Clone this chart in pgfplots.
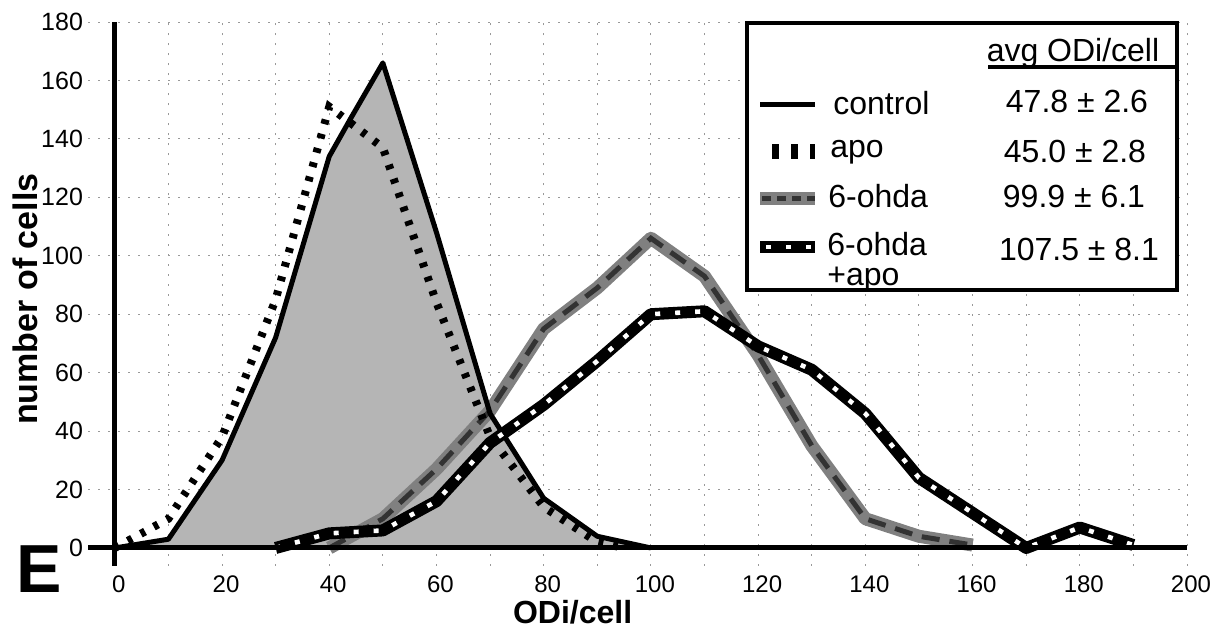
\documentclass[border=0pt]{standalone}
\usepackage{fontspec}
\setmainfont{Liberation Sans}
\usepackage{pgfplots}
\pgfplotsset{compat=1.18}
\usepackage{pgfplotstable}

% number of cells per ODi/cell bin
\pgfplotstableread{
x y
0 0
10 3
20 30
30 72
40 134
44 147
50 166
60 108
70 46
80 17
90 4
100 0
}\control

\pgfplotstableread{
x y
0 0
10 10
20 38
30 85
40 151
50 137
60 84
70 38
80 14
90 2
95 0
}\apo

\pgfplotstableread{
x y
40 0
50 10
60 27
70 47
80 75
90 89
100 106
110 93
120 66
130 35
140 10
150 4
160 1
}\ohda

\pgfplotstableread{
x y
30 0
40 5
50 6
60 16
70 36
80 49
90 64
100 80
110 81
120 69
130 61
140 46
150 24
160 12
170 0
180 7
190 1
}\ohdaapo

\tikzset{
  ctrlline/.style={black, line width=2.5pt, line join=round},
  apoline/.style={black, line width=4pt, dash pattern=on 2.4pt off 5pt},
  ohdabase/.style={black!50, line width=6.5pt, line join=round},
  ohdadash/.style={black!80, line width=2.5pt, dash pattern=on 9pt off 5pt},
  oabase/.style={black, line width=6pt, line join=round},
  oadots/.style={white, line width=2.3pt, dash pattern=on 2.5pt off 7.5pt},
}

\begin{document}
\begin{tikzpicture}
\path[use as bounding box] (0,0) rectangle (608pt,314pt);
\begin{axis}[
  at={(44pt,31.25pt)}, anchor=south west,
  scale only axis, width=549.5pt, height=271.75pt,
  xmin=-5, xmax=200, ymin=-6, ymax=180,
  xtick={0,20,...,200}, ytick={0,20,...,180},
  minor xtick={10,30,...,190},
  grid=both,
  major grid style={black!40, line width=0.5pt, dash pattern=on 1pt off 4pt},
  minor grid style={black!40, line width=0.5pt, dash pattern=on 1pt off 4pt},
  axis line style={draw=none},
  major tick length=0pt, minor tick length=0pt,
  tick label style={font=\fontsize{12.5}{14}\selectfont},
  xticklabel style={font=\fontsize{12}{13}\selectfont, inner sep=0.5pt, yshift=-4.5pt, xshift=2pt},
  /pgf/number format/assume math mode=true,
  yticklabel style={xshift=1pt},
  xlabel={\textbf{ODi/cell}},
  ylabel={\textbf{number of cells}},
  xlabel style={at={(axis description cs:0.441,-0.0865)}, anchor=center, inner sep=0pt, font=\fontsize{16}{16}\selectfont},
  ylabel style={at={(axis description cs:-0.057,0.49)}, anchor=center, rotate=0, font=\fontsize{17}{20}\selectfont},
  clip=false,
]
\addplot[fill=black!29, draw=none] table {\control} \closedcycle;
\addplot[ohdabase] table {\ohda};
\addplot[ohdadash] table {\ohda};
\addplot[ctrlline] table {\control};
\addplot[apoline] table {\apo};
\addplot[oabase] table {\ohdaapo};
\addplot[oadots] table {\ohdaapo};
% axis lines crossing at the origin
\draw[line width=2.5pt] (axis cs:-5,0) -- (axis cs:200,0);
\draw[line width=2.5pt] (axis cs:0,-6) -- (axis cs:0,180);
\end{axis}

% panel letter
\node[font=\fontsize{34}{38}\selectfont\bfseries] at (19.75pt,29.5pt) {E};

% legend box
\draw[line width=2pt, fill=white] (373.5pt,169pt) rectangle (588.5pt,302.5pt);
\begin{scope}[font=\fontsize{16}{18}\selectfont]
\node[anchor=base] at (536.5pt,283pt) {avg ODi/cell};
\draw[line width=2pt] (494pt,280.5pt) -- (587.5pt,280.5pt);
\draw[ctrlline] (380pt,261.5pt) -- (407.5pt,261.5pt);
\draw[black, line width=7.5pt, dash pattern=on 3.5pt off 6pt] (386pt,238pt) -- (407.5pt,238pt);
\draw[ohdabase] (380pt,215pt) -- (407.5pt,215pt);
\draw[ohdadash, dash pattern=on 4.5pt off 3pt] (381pt,215pt) -- (407.5pt,215pt);
\draw[oabase] (380pt,190.5pt) -- (407.5pt,190.5pt);
\draw[oadots] (383pt,190.5pt) -- (407.5pt,190.5pt);
\node[anchor=base west, inner sep=0pt] at (416.5pt,256.5pt) {control};
\node[anchor=base west, inner sep=0pt] at (415pt,235pt) {apo};
\node[anchor=base west, inner sep=0pt] at (414pt,210.5pt) {6-ohda};
\node[anchor=base west, inner sep=0pt] at (413.5pt,186.5pt) {6-ohda};
\node[anchor=base west, inner sep=0pt] at (413.5pt,171.5pt) {+apo};
\node[anchor=base] at (538.5pt,257.5pt) {47.8 ± 2.6};
\node[anchor=base] at (537.5pt,233pt) {45.0 ± 2.8};
\node[anchor=base] at (537pt,210.5pt) {99.9 ± 6.1};
\node[anchor=base] at (539.5pt,184pt) {107.5 ± 8.1};
\end{scope}
\end{tikzpicture}
\end{document}
